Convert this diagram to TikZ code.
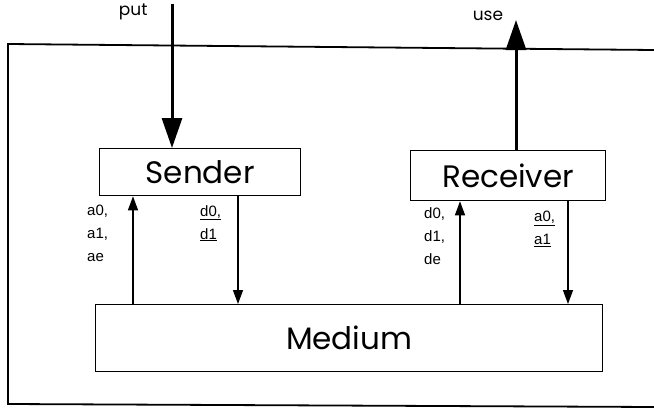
\documentclass[tikz,border=0pt]{standalone}
\usepackage{fontspec}
\setmainfont{Poppins}
\newfontfamily\lblfont{Liberation Sans}
\usetikzlibrary{arrows.meta}
\begin{document}
\begin{tikzpicture}[x=1pt,y=-1pt,
  box/.style={draw,line width=1.3pt,minimum width=0pt,inner sep=0pt,rectangle},
  big/.style={line width=3pt,-{Triangle[length=30pt,width=20pt]}},
  small/.style={line width=1.3pt,-{Triangle[length=14pt,width=10pt]}},
  lbl/.style={font=\lblfont\fontsize{15}{23}\selectfont,align=left,anchor=north west,inner sep=0pt},
  title/.style={font=\fontsize{31}{34}\selectfont}]
\useasboundingbox (0,0) rectangle (654,415);
% outer frame
\draw[line width=1.8pt] (654,50) -- (8,44) -- (8,404) -- (654,407);
% boxes
\node[box,minimum width=201pt,minimum height=47pt,anchor=north west] (S) at (99,148) {};
\node[title] at (S.center) {Sender};
\node[box,minimum width=195pt,minimum height=50pt,anchor=north west] (R) at (410,150) {};
\node[title] at (R.center) {Receiver};
\node[box,minimum width=507pt,minimum height=67pt,anchor=north west] (M) at (95,304) {};
\node[title] at (M.center) {Medium};
% external
\coordinate (put0) at (172,4);
\coordinate (use0) at (516,20);
\draw[big] (put0) -- (put0 |- S.north);
\draw[big] (use0 |- R.north) -- (use0);
\node[font=\fontsize{17}{20}\selectfont,anchor=east] (putl) at (151,12) {put};
\node[font=\fontsize{17}{20}\selectfont] (usel) at (488,16) {use};
% internal arrows
\coordinate (c1) at (133,0);
\coordinate (c2) at (238,0);
\coordinate (c3) at (460,0);
\coordinate (c4) at (568,0);
\draw[small] (c1 |- M.north) -- (c1 |- S.south);
\draw[small] (c2 |- S.south) -- (c2 |- M.north);
\draw[small] (c3 |- M.north) -- (c3 |- R.south);
\draw[small] (c4 |- R.south) -- (c4 |- M.north);
% labels
\node[lbl] (l1) at (87,205) {a0,\\a1,\\ae};
\node[lbl] (l2) at (200,205) {\underline{d0,}\\\underline{d1}};
\node[lbl] (l3) at (424,207) {d0,\\d1,\\de};
\node[lbl] (l4) at (534,211) {\underline{a0,}\\\underline{a1}};
\end{tikzpicture}
\end{document}
